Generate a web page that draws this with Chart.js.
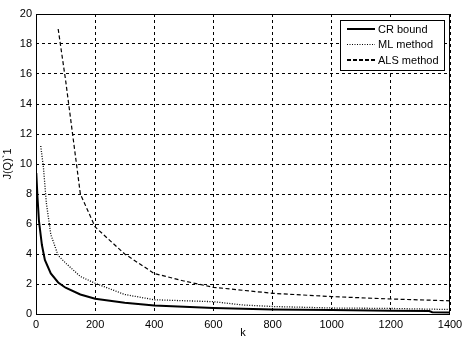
<!DOCTYPE html>
<html>
<head>
<meta charset="utf-8">
<script src="https://cdn.jsdelivr.net/npm/chart.js@4/dist/chart.umd.min.js"></script>
<style>
html,body{margin:0;padding:0;background:#fff;}
#wrap{width:471px;height:347px;}
</style>
</head>
<body>
<div id="wrap"><canvas id="c" width="471" height="347"></canvas></div>
<script>
// ---- data ----
const seriesNames = ["CR bound", "ML method", "ALS method"];
const crK  = [1, 5, 10, 20, 30, 50, 75, 100, 150, 200, 300, 400, 600, 800, 1000, 1200, 1330, 1340, 1400];
const crJ  = [9.4, 7.8, 6.2, 4.6, 3.6, 2.7, 2.1, 1.75, 1.3, 1.02, 0.75, 0.56, 0.4, 0.3, 0.26, 0.22, 0.2, 0.12, 0.1];
const mlK  = [16, 25, 35, 50, 75, 100, 150, 200, 300, 400, 600, 700, 800, 1000, 1200, 1400];
const mlJ  = [11.2, 9.8, 7.4, 5.3, 3.9, 3.4, 2.5, 2.05, 1.3, 0.95, 0.82, 0.6, 0.5, 0.4, 0.37, 0.3];
const alsK = [75, 100, 125, 150, 200, 300, 400, 500, 600, 800, 1000, 1200, 1400];
const alsJ = [19.0, 15.6, 11.8, 8.0, 5.8, 4.0, 2.7, 2.2, 1.78, 1.38, 1.16, 1.0, 0.88];
const xTicksMax = 1400, xStep = 200;
const yTicksMax = 20, yStep = 2;
const xTitle = "k";
const yTitle = "J(Q)`1";

const pts = (ks, js) => ks.map((k, i) => ({x: k, y: js[i]}));
const FONT = {family: "'Liberation Sans', Arial, sans-serif", size: 11};

const boxAndLegend = {
  id: 'boxAndLegend',
  beforeDraw(chart) {
    const ctx = chart.ctx;
    ctx.save(); ctx.fillStyle = '#fff'; ctx.fillRect(0, 0, chart.width, chart.height); ctx.restore();
  },
  afterDraw(chart) {
    const ctx = chart.ctx, a = chart.chartArea;
    ctx.save();
    ctx.strokeStyle = '#000'; ctx.lineWidth = 1; ctx.setLineDash([]);
    ctx.strokeRect(Math.round(a.left) + 0.5, Math.round(a.top) + 0.5, Math.round(a.right - a.left) - 1, Math.round(a.bottom - a.top));
    // legend box
    const lx = 340.5, ly = 20.5, lw = 104, lh = 50;
    ctx.fillStyle = '#fff'; ctx.fillRect(lx, ly, lw, lh);
    ctx.strokeRect(lx, ly, lw, lh);
    ctx.font = "11px 'Liberation Sans', Arial, sans-serif";
    ctx.fillStyle = '#000'; ctx.textBaseline = 'middle'; ctx.textAlign = 'left';
    chart.data.datasets.forEach((ds, i) => {
      const y = 29 + i * 15.5;
      ctx.beginPath();
      ctx.setLineDash(ds.legendDash || ds.borderDash || []);
      ctx.lineWidth = ds.legendWidth || ds.borderWidth;
      ctx.strokeStyle = ds.borderColor;
      ctx.moveTo(347, y); ctx.lineTo(375, y); ctx.stroke();
      ctx.setLineDash([]);
      ctx.fillText(ds.label, 378, y + 0.5);
    });
    ctx.restore();
  }
};

new Chart(document.getElementById('c'), {
  type: 'line',
  data: {
    datasets: [
      {label: seriesNames[0], data: pts(crK, crJ), borderColor: '#000', borderWidth: 2, pointRadius: 0, tension: 0, fill: false},
      {label: seriesNames[1], data: pts(mlK, mlJ), borderColor: '#000', borderWidth: 1.3, borderDash: [1, 1.5], legendWidth: 1, pointRadius: 0, tension: 0, fill: false},
      {label: seriesNames[2], data: pts(alsK, alsJ), borderColor: '#000', borderWidth: 1.2, borderDash: [4, 2.5], legendWidth: 2, legendDash: [4, 2], pointRadius: 0, tension: 0, fill: false}
    ]
  },
  options: {
    responsive: false,
    animation: false,
    devicePixelRatio: 1,
    layout: {padding: {left: 0, right: 21, top: 14, bottom: 0}},
    plugins: {legend: {display: false}, tooltip: {enabled: false}},
    scales: {
      x: {
        type: 'linear', min: 0, max: xTicksMax,
        ticks: {stepSize: xStep, color: '#000', font: FONT, padding: 4, maxRotation: 0, autoSkip: false,
                callback: v => String(v)},
        grid: {color: '#000', lineWidth: 1, drawTicks: false},
        border: {display: false, dash: [3, 3]},
        title: {display: true, text: xTitle, color: '#000', font: FONT, padding: {top: 7.4, bottom: 7.4}},
        afterFit(s) { s.height = 33; }
      },
      y: {
        type: 'linear', min: 0, max: yTicksMax,
        ticks: {stepSize: yStep, color: '#000', font: FONT, padding: 4, autoSkip: false,
                callback: v => String(v)},
        grid: {color: '#000', lineWidth: 1, drawTicks: false},
        border: {display: false, dash: [3, 3]},
        title: {display: true, text: yTitle, color: '#000', font: FONT, padding: {top: 1.4, bottom: 1.4}},
        afterFit(s) { s.width = 36; }
      }
    }
  },
  plugins: [boxAndLegend]
});
</script>
</body>
</html>
